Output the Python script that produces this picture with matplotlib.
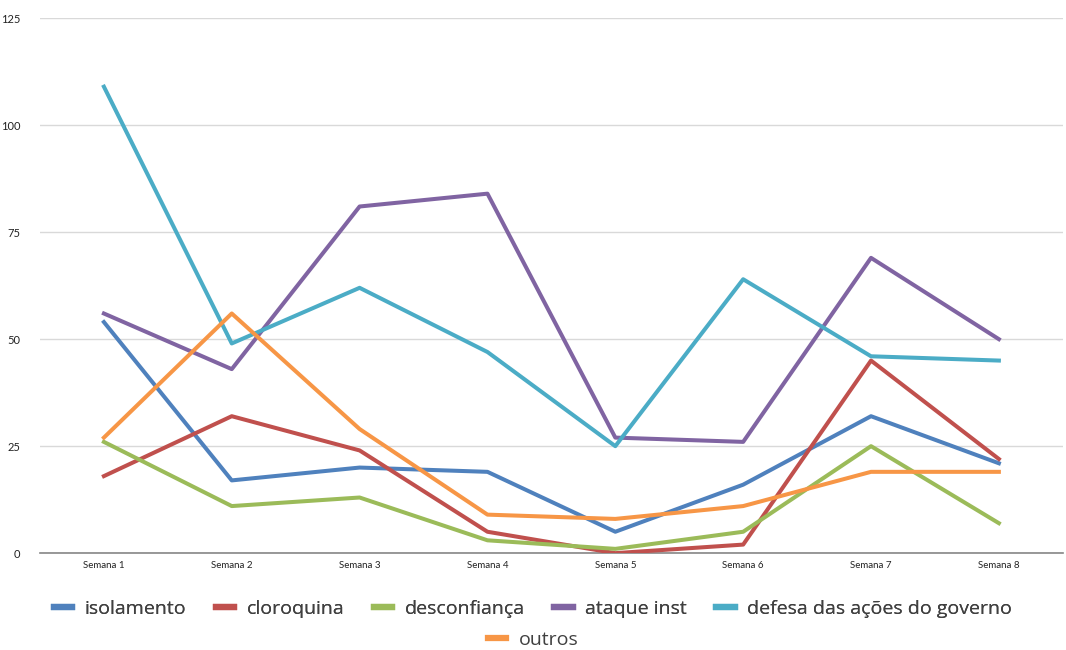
import matplotlib.pyplot as plt
from matplotlib.lines import Line2D

semanas = ['Semana 1', 'Semana 2', 'Semana 3', 'Semana 4',
           'Semana 5', 'Semana 6', 'Semana 7', 'Semana 8']

isolamento = [54, 17, 20, 19, 5, 16, 32, 21]
cloroquina = [18, 32, 24, 5, 0, 2, 45, 22]
desconfianca = [26, 11, 13, 3, 1, 5, 25, 7]
ataque_inst = [56, 43, 81, 84, 27, 26, 69, 50]
defesa_governo = [109, 49, 62, 47, 25, 64, 46, 45]
outros = [27, 56, 29, 9, 8, 11, 19, 19]

nomes = ['isolamento', 'cloroquina', 'desconfiança', 'ataque inst',
         'defesa das ações do governo', 'outros']
series = [isolamento, cloroquina, desconfianca, ataque_inst, defesa_governo, outros]
cores = ['#4F81BD', '#C0504D', '#9BBB59', '#8064A2', '#4BACC6', '#F79646']

plt.rcParams['font.family'] = ['Lato', 'DejaVu Sans']

fig = plt.figure(figsize=(10.66, 6.5), dpi=100)
ax = fig.add_axes([0.0375, 0.149, 0.9595, 0.823])

x = range(len(semanas))
for s, cor in zip(series, cores):
    ax.plot(x, s, color=cor, lw=2.9, solid_joinstyle='round', zorder=3)

ax.set_xlim(-0.5, 7.5)
ax.set_ylim(0, 125)
ax.set_yticks([0, 25, 50, 75, 100, 125])
ax.set_xticks(list(x))
ax.set_xticklabels(semanas, fontsize=7, color='#222222')
ax.tick_params(axis='y', labelsize=8, colors='#222222', length=0, pad=14)
ax.tick_params(axis='x', length=0, pad=6)
ax.grid(axis='y', color='#d9d9d9', lw=1)
ax.set_axisbelow(True)
for lado in ['top', 'right', 'left']:
    ax.spines[lado].set_visible(False)
ax.spines['bottom'].set_color('#868686')
ax.spines['bottom'].set_linewidth(1.2)

# legenda em duas linhas centralizadas
alcas = [Line2D([], [], color=c, lw=4.5) for c in cores]
estilo = dict(frameon=False, handlelength=0.95, handletextpad=0.65,
              labelcolor='#404040', prop={'family': 'Open Sans', 'size': 14})
leg1 = fig.legend(alcas[:5], nomes[:5], loc='center', bbox_to_anchor=(0.5, 0.063),
                  ncol=5, columnspacing=1.5, **estilo)
fig.add_artist(leg1)
fig.legend(alcas[5:], nomes[5:], loc='center', bbox_to_anchor=(0.5, 0.016),
           ncol=1, **estilo)

fig.savefig('out.png', dpi=100)
